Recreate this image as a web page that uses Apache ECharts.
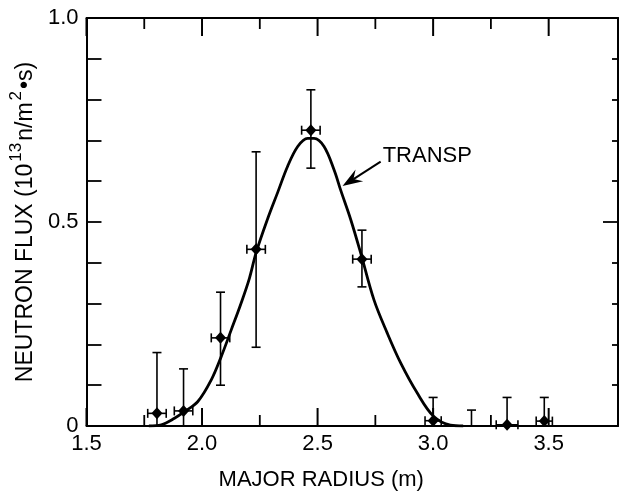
<!DOCTYPE html>
<html>
<head>
<meta charset="utf-8">
<script src="https://cdn.jsdelivr.net/npm/echarts@6/dist/echarts.min.js"></script>
<style>html,body{margin:0;padding:0;background:#fff}#c{width:621px;height:496px}</style>
</head>
<body>
<div id="c"></div>
<script>
// ---- tick labels ----
const majorXTicks = [1.5, 2.0, 2.5, 3.0, 3.5];
const minorXTicks = [1.75, 2.25, 2.75, 3.25];
const yLabelTicks = [0, 0.5, 1.0];

// ---- measured points (major radius, neutron flux) ----
const radius    = [1.805, 1.920, 2.080, 2.234, 2.471, 2.692, 3.000, 3.320, 3.481];
const flux      = [0.031, 0.037, 0.216, 0.433, 0.725, 0.409, 0.013, 0.003, 0.012];
const fluxLow   = [0.000, 0.000, 0.100, 0.193, 0.632, 0.341, 0.000, 0.000, 0.000];
const fluxHigh  = [0.180, 0.140, 0.328, 0.672, 0.824, 0.480, 0.070, 0.070, 0.070];
const radiusErr = [0.040, 0.040, 0.040, 0.040, 0.040, 0.040, 0.035, 0.047, 0.035];

// ---- lone upper error bar (no visible point) ----
const soloRadius = [3.166];
const soloHigh   = [0.039];

// ---- TRANSP simulation curve ----
const transpR    = [1.770, 1.824, 1.881, 1.924, 1.982, 2.040, 2.083, 2.126, 2.169, 2.205, 2.234, 2.284, 2.327, 2.370, 2.414, 2.457, 2.485, 2.528, 2.572, 2.600, 2.644, 2.687, 2.744, 2.802, 2.860, 2.932, 3.003, 3.075, 3.130];
const transpFlux = [0.000, 0.003, 0.019, 0.035, 0.060, 0.113, 0.170, 0.235, 0.301, 0.362, 0.425, 0.508, 0.572, 0.636, 0.685, 0.705, 0.705, 0.685, 0.627, 0.578, 0.505, 0.423, 0.309, 0.227, 0.154, 0.080, 0.023, 0.002, 0.000];

// ---- annotation ----
const annotationText = 'TRANSP';
const annotationArrow = [[2.608, 0.588, 2.773, 0.648]];

const FONT = '"Liberation Sans", Arial, Helvetica, sans-serif';
const BLACK = '#000';
const X_MIN = 1.5, X_MAX = 3.8, Y_MIN = 0, Y_MAX = 1.0;

const chart = echarts.init(document.getElementById('c'), null, {renderer: 'canvas'});

const errData = radius.map((r, i) => [r, flux[i], fluxLow[i], fluxHigh[i], radiusErr[i]]);
const soloData = soloRadius.map((r, i) => [r, 0, 0, soloHigh[i]]);
const curveData = transpR.map((r, i) => [r, transpFlux[i]]);

function isMajor(v) {
  return majorXTicks.some(t => Math.abs(t - v) < 1e-6);
}

// inward frame ticks along top and bottom edges, placed through the axis scale
function renderFrame(params, api) {
  const kids = [];
  const add = (v, len, w) => {
    const b = api.coord([v, Y_MIN]);
    const t = api.coord([v, Y_MAX]);
    const st = {stroke: BLACK, lineWidth: w};
    kids.push({type: 'line', shape: {x1: b[0], y1: b[1], x2: b[0], y2: b[1] - len}, style: st});
    kids.push({type: 'line', shape: {x1: t[0], y1: t[1], x2: t[0], y2: t[1] + len}, style: st});
  };
  majorXTicks.forEach(v => add(v, 18, 2));
  minorXTicks.forEach(v => add(v, 11, 1.8));
  return {type: 'group', children: kids};
}

function renderErr(params, api) {
  const x = api.value(0), y = api.value(1), lo = api.value(2), hi = api.value(3), xe = api.value(4);
  const p = api.coord([x, y]);
  const pHi = api.coord([x, hi]);
  const pLo = api.coord([x, lo]);
  const pL = api.coord([x - xe, y]);
  const pR = api.coord([x + xe, y]);
  const st = {stroke: BLACK, lineWidth: 1.6, fill: null};
  const cw = 4.5, ch = 4.5;
  const kids = [
    {type: 'line', shape: {x1: p[0], y1: pLo[1], x2: p[0], y2: pHi[1]}, style: st},
    {type: 'line', shape: {x1: p[0] - cw, y1: pHi[1], x2: p[0] + cw, y2: pHi[1]}, style: st},
    {type: 'line', shape: {x1: pL[0], y1: p[1], x2: pR[0], y2: p[1]}, style: st},
    {type: 'line', shape: {x1: pL[0], y1: p[1] - ch, x2: pL[0], y2: p[1] + ch}, style: st},
    {type: 'line', shape: {x1: pR[0], y1: p[1] - ch, x2: pR[0], y2: p[1] + ch}, style: st},
    {type: 'polygon', shape: {points: [[p[0], p[1] - 6], [p[0] + 5.5, p[1]], [p[0], p[1] + 6], [p[0] - 5.5, p[1]]]}, style: {fill: BLACK}}
  ];
  if (lo > 0) {
    kids.push({type: 'line', shape: {x1: p[0] - cw, y1: pLo[1], x2: p[0] + cw, y2: pLo[1]}, style: st});
  }
  return {type: 'group', children: kids};
}

function renderSolo(params, api) {
  const x = api.value(0), hi = api.value(3);
  const pLo = api.coord([x, 0]);
  const pHi = api.coord([x, hi]);
  const st = {stroke: BLACK, lineWidth: 1.6, fill: null};
  return {type: 'group', children: [
    {type: 'line', shape: {x1: pLo[0], y1: pLo[1], x2: pLo[0], y2: pHi[1]}, style: st},
    {type: 'line', shape: {x1: pLo[0] - 4.5, y1: pHi[1], x2: pLo[0] + 4.5, y2: pHi[1]}, style: st}
  ]};
}

function renderArrow(params, api) {
  const tip = api.coord([api.value(0), api.value(1)]);
  const tail = api.coord([api.value(2), api.value(3)]);
  const dx = tail[0] - tip[0], dy = tail[1] - tip[1];
  const len = Math.hypot(dx, dy);
  const ux = dx / len, uy = dy / len, px = -uy, py = ux;
  const L = 20, W = 7;
  const w1 = [tip[0] + ux * L + px * W, tip[1] + uy * L + py * W];
  const w2 = [tip[0] + ux * L - px * W, tip[1] + uy * L - py * W];
  const notch = [tip[0] + ux * L * 0.65, tip[1] + uy * L * 0.65];
  return {type: 'group', children: [
    {type: 'line', shape: {x1: notch[0], y1: notch[1], x2: tail[0], y2: tail[1]}, style: {stroke: BLACK, lineWidth: 2}},
    {type: 'polygon', shape: {points: [tip, w1, notch, w2]}, style: {fill: BLACK}},
    {type: 'text', style: {text: annotationText, x: tail[0] + 2, y: tail[1] - 6, fontSize: 22, fontFamily: FONT, fill: BLACK, align: 'left', verticalAlign: 'middle'}}
  ]};
}

const option = {
  animation: false,
  backgroundColor: '#fff',
  grid: {left: 85, right: 3, top: 18, bottom: 70, containLabel: false},
  xAxis: [
    {
      type: 'value', position: 'bottom', min: X_MIN, max: X_MAX, interval: 0.5,
      splitLine: {show: false},
      axisLine: {show: true, onZero: false, lineStyle: {color: BLACK, width: 2}},
      axisTick: {show: false},
      axisLabel: {show: true, showMaxLabel: false, formatter: v => (isMajor(v) ? v.toFixed(1) : ''), color: BLACK, fontSize: 22, fontFamily: FONT, margin: 7},
      name: 'MAJOR RADIUS (m)',
      nameLocation: 'middle',
      nameGap: 43,
      nameTextStyle: {color: BLACK, fontSize: 22, fontFamily: FONT, padding: [0, 62, 0, 0]}
    },
    {
      type: 'value', position: 'top', min: X_MIN, max: X_MAX, interval: 0.5,
      splitLine: {show: false},
      axisLine: {show: true, onZero: false, lineStyle: {color: BLACK, width: 2}},
      axisTick: {show: false},
      axisLabel: {show: false}
    }
  ],
  yAxis: [
    {
      type: 'value', position: 'left', min: Y_MIN, max: Y_MAX, interval: 0.1,
      splitLine: {show: false},
      axisLine: {show: true, onZero: false, lineStyle: {color: BLACK, width: 2}},
      axisTick: {show: true, inside: true, length: 15, lineStyle: {color: BLACK, width: 1.8}},
      axisLabel: {show: true, formatter: v => (yLabelTicks.some(t => Math.abs(t - v) < 1e-6) ? (v === 0 ? '0' : v.toFixed(1)) : ''), color: BLACK, fontSize: 22, fontFamily: FONT, margin: 8},
      name: '{m|NEUTRON FLUX (10}{s|13}{m|n/m}{s|2}{m|\u2022s)}',
      nameLocation: 'middle',
      nameRotate: 90,
      nameGap: 44,
      nameTextStyle: {
        color: BLACK, fontSize: 23, fontFamily: FONT,
        rich: {
          m: {fontSize: 23, fontFamily: FONT, color: BLACK, lineHeight: 29, verticalAlign: 'bottom'},
          s: {fontSize: 17, fontFamily: FONT, color: BLACK, lineHeight: 17, verticalAlign: 'top', padding: [0, 2, 0, 2]}
        }
      }
    },
    {
      type: 'value', position: 'right', min: Y_MIN, max: Y_MAX, interval: 0.5,
      splitLine: {show: false},
      axisLine: {show: true, onZero: false, lineStyle: {color: BLACK, width: 2}},
      axisTick: {show: true, inside: true, length: 15, lineStyle: {color: BLACK, width: 1.8}},
      minorTick: {show: true, splitNumber: 5, length: 6, lineStyle: {color: BLACK, width: 1.8}},
      axisLabel: {show: false}
    }
  ],
  series: [
    {
      type: 'line', name: 'TRANSP', xAxisIndex: 0, yAxisIndex: 0,
      data: curveData, showSymbol: false, symbol: 'none',
      smooth: 0.35,
      lineStyle: {color: BLACK, width: 2.8}, z: 2, silent: true
    },
    {
      type: 'custom', name: 'measured', xAxisIndex: 0, yAxisIndex: 0,
      data: errData, renderItem: renderErr, z: 3, silent: true
    },
    {
      type: 'custom', name: 'solo', xAxisIndex: 0, yAxisIndex: 0,
      data: soloData, renderItem: renderSolo, z: 3, silent: true
    },
    {
      type: 'custom', name: 'frame', xAxisIndex: 0, yAxisIndex: 0,
      data: [[X_MIN, Y_MIN]], renderItem: renderFrame, z: 3, silent: true
    },
    {
      type: 'custom', name: 'annotation', xAxisIndex: 0, yAxisIndex: 0,
      data: annotationArrow, renderItem: renderArrow, z: 4, silent: true
    }
  ]
};
chart.setOption(option);
</script>
</body>
</html>
